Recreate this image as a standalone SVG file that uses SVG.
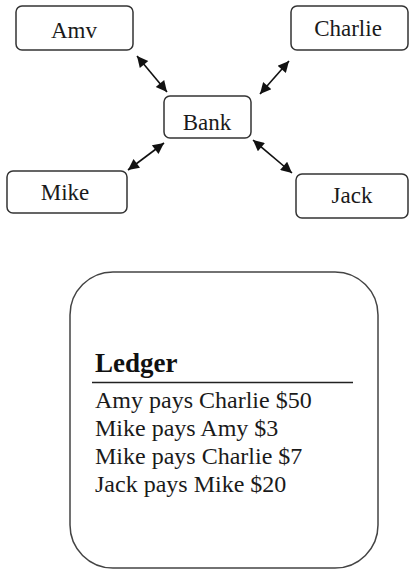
<svg xmlns="http://www.w3.org/2000/svg" width="409" height="571" viewBox="0 0 409 571">
<style>
.box{fill:#fff;stroke:#333;stroke-width:1.5}
.conn{stroke:#111;stroke-width:1.6;fill:none;marker-start:url(#ah);marker-end:url(#ah)}
</style>
<defs>
<marker id="ah" viewBox="0 0 10 10" refX="10" refY="5" markerWidth="13" markerHeight="11" markerUnits="userSpaceOnUse" orient="auto-start-reverse">
<path d="M0,0 L10,5 L0,10 z" fill="#111"/>
</marker>
</defs>
<rect width="409" height="571" fill="#fff"/>
<g id="connectors">
<line class="conn" x1="137" y1="56" x2="167" y2="92"/>
<line class="conn" x1="289" y1="61" x2="260" y2="94"/>
<line class="conn" x1="164" y1="143" x2="128" y2="170"/>
<line class="conn" x1="253" y1="140" x2="292" y2="173"/>
</g>
<g font-family="Liberation Serif, DejaVu Serif, serif" font-size="23" fill="#1a1a1a" text-anchor="middle">
<g id="amy">
<rect class="box" x="16" y="6" width="117" height="44" rx="6"/>
<text x="74" y="38">Amv</text>
</g>
<g id="charlie">
<rect class="box" x="291" y="6" width="117" height="44" rx="6"/>
<text x="348" y="36">Charlie</text>
</g>
<g id="bank">
<rect class="box" x="164" y="96" width="87" height="42" rx="6"/>
<text x="207" y="130">Bank</text>
</g>
<g id="mike">
<rect class="box" x="7" y="171" width="120" height="42" rx="6"/>
<text x="65" y="200">Mike</text>
</g>
<g id="jack">
<rect class="box" x="296" y="174" width="112" height="44" rx="6"/>
<text x="352" y="203">Jack</text>
</g>
</g>
<g id="ledger" font-family="Liberation Serif, DejaVu Serif, serif" fill="#1a1a1a">
<rect x="70" y="272" width="308" height="296" rx="43" fill="#fff" stroke="#444" stroke-width="1.5"/>
<text x="95" y="372" font-size="27" font-weight="bold" fill="#111">Ledger</text>
<line x1="92" y1="382.5" x2="353" y2="382.5" stroke="#222" stroke-width="1.5"/>
<text x="95" y="408" font-size="24">Amy pays Charlie $50</text>
<text x="95" y="436" font-size="24">Mike pays Amy $3</text>
<text x="95" y="464" font-size="24">Mike pays Charlie $7</text>
<text x="95" y="492" font-size="24">Jack pays Mike $20</text>
</g>
</svg>
